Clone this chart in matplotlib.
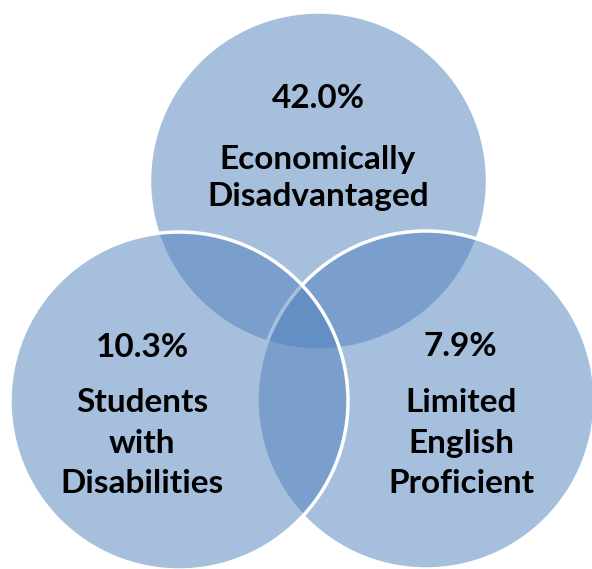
import matplotlib.pyplot as plt
from matplotlib.patches import Circle

# -------- DATA --------
groups = ["Economically\nDisadvantaged", "Students\nwith\nDisabilities", "Limited\nEnglish\nProficient"]
shares = [42.0, 10.3, 7.9]

# -------- LAYOUT (pixels, y down) --------
W, H = 592, 569
centers = [(318.5, 181), (179, 401), (426, 400)]
radius = 169
pct_pos = [(318, 98), (142, 347), (460, 346)]
label_pos = [(318, 178), (142, 443), (461, 443)]
line_gap = [1.34, 1.48, 1.48]
draw_order = [0, 2, 1]  # top, right, left (left ends up on top)

FILL = (0x4F / 255, 0x81 / 255, 0xBD / 255, 0.5)
FONT = "Lato"
SIZE = 24

fig = plt.figure(figsize=(W / 100, H / 100), dpi=100)
ax = fig.add_axes([0, 0, 1, 1])
ax.set_xlim(0, W)
ax.set_ylim(H, 0)
ax.set_aspect("equal")
ax.axis("off")

for i in draw_order:
    ax.add_patch(Circle(centers[i], radius, facecolor=FILL, edgecolor="white", linewidth=2.5))

for i in range(len(groups)):
    ax.text(*pct_pos[i], f"{shares[i]:.1f}%", ha="center", va="center",
            fontsize=SIZE, fontweight="bold", family=FONT, color="black")
    ax.text(*label_pos[i], groups[i], ha="center", va="center", multialignment="center",
            fontsize=SIZE, fontweight="bold", family=FONT, color="black", linespacing=line_gap[i])

fig.savefig("out.png", dpi=100)
